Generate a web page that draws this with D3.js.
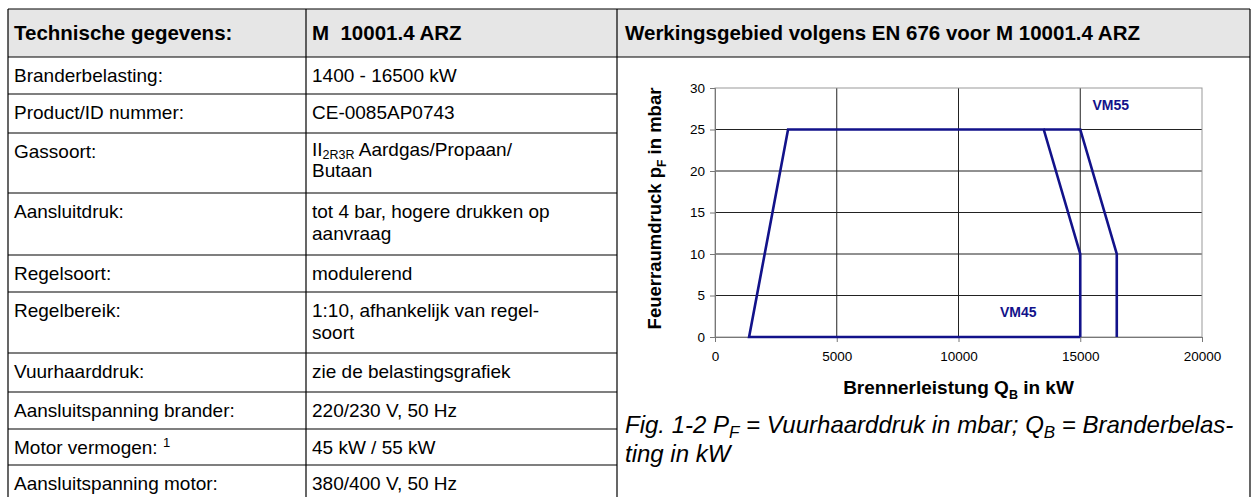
<!DOCTYPE html>
<html>
<head>
<meta charset="utf-8">
<script src="https://cdn.jsdelivr.net/npm/d3@7"></script>
<style>
  body { margin: 0; background: #fff; }
  svg { display: block; font-family: "Liberation Sans", Arial, sans-serif; }
  text { white-space: pre; }
</style>
</head>
<body>
<div id="chart"></div>
<script>
// table content (sub/superscript written as _{..} / ^{..})
var tableHeader = ["Technische gegevens:", "M  10001.4 ARZ"];
var tableLabels = ["Branderbelasting:", "Product/ID nummer:", "Gassoort:", "Aansluitdruk:",
  "Regelsoort:", "Regelbereik:", "Vuurhaarddruk:", "Aansluitspanning brander:",
  "Motor vermogen: ^{1}", "Aansluitspanning motor:"];
var tableValues = [["1400 - 16500 kW"], ["CE-0085AP0743"], ["II_{2R3R} Aardgas/Propaan/", "Butaan"],
  ["tot 4 bar, hogere drukken op", "aanvraag"], ["modulerend"], ["1:10, afhankelijk van regel-", "soort"],
  ["zie de belastingsgrafiek"], ["220/230 V, 50 Hz"], ["45 kW / 55 kW"], ["380/400 V, 50 Hz"]];

// chart content
var chartTitle = "Werkingsgebied volgens EN 676 voor M 10001.4 ARZ";
var xTicks = [0, 5000, 10000, 15000, 20000];
var yTicks = [0, 5, 10, 15, 20, 25, 30];
var vm45 = [[15000, 0], [1400, 0], [3000, 25], [13500, 25], [15000, 10], [15000, 0]];
var vm55 = [[13500, 25], [15000, 25], [16500, 10], [16500, 0]];
var seriesLabels = [{name: "VM45", x: 11700, y: 2.4}, {name: "VM55", x: 15500, y: 27.3}];
var yTitle = "Feuerraumdruck p_{F} in mbar";
var xTitle = "Brennerleistung Q_{B} in kW";
var caption = ["Fig. 1-2 P_{F} = Vuurhaarddruk in mbar; Q_{B} = Branderbelas-", "ting in kW"];

var W = 1254, H = 497;
var svg = d3.select("#chart").append("svg").attr("width", W).attr("height", H);

// write text with _{sub} and ^{sup} parts
function richText(sel, str, subSize, dn, up) {
  var parts = str.split(/(_\{[^}]*\}|\^\{[^}]*\})/);
  var shift = 0;
  parts.forEach(function(p) {
    if (!p) return;
    var t = sel.append("tspan");
    if (p[0] == "_" || p[0] == "^") {
      var d = p[0] == "_" ? (dn || 5) : -(up || 7);
      t.attr("dy", d - shift).style("font-size", subSize).text(p.slice(2, -1));
      shift = d;
    } else {
      t.attr("dy", -shift).text(p);
      shift = 0;
    }
  });
}

// ---- table ----
var xL = 8, xM = 306, xR = 617, xE = 1250;
var rowH = [37, 39, 60, 62, 37, 61, 39, 37, 36, 40];
var top0 = 9, headH = 48;

svg.append("rect").attr("x", xL).attr("y", top0).attr("width", xE - xL).attr("height", headH)
  .attr("fill", "#e6e6e6");

var rowY = [top0 + headH];
rowH.forEach(function(h, i) { rowY.push(rowY[i] + h); });

var g = svg.append("g").attr("stroke", "#000").attr("stroke-width", 1.2).attr("fill", "none");
g.append("line").attr("x1", xL).attr("x2", xE).attr("y1", top0).attr("y2", top0);
g.append("line").attr("x1", xL).attr("x2", xE).attr("y1", rowY[0]).attr("y2", rowY[0]);
rowY.slice(1).forEach(function(y) {
  g.append("line").attr("x1", xL).attr("x2", xR).attr("y1", y).attr("y2", y);
});
[xL, xM, xR].forEach(function(x) {
  g.append("line").attr("x1", x).attr("x2", x).attr("y1", top0).attr("y2", H + 10);
});
g.append("line").attr("x1", xE).attr("x2", xE).attr("y1", top0).attr("y2", H + 10);

var hdr = [[xL + 6, tableHeader[0]], [xM + 6, tableHeader[1]], [xR + 8, chartTitle]];
hdr.forEach(function(h) {
  svg.append("text").attr("x", h[0]).attr("y", top0 + 31)
    .style("font-size", "20.5px").style("font-weight", "bold").text(h[1]);
});

tableLabels.forEach(function(lab, i) {
  var y0 = rowY[i];
  var t = svg.append("text").attr("x", xL + 6).attr("y", y0 + 25).style("font-size", "19px");
  richText(t, lab, "13px");
  var vals = tableValues[i];
  var gap = i == 2 ? 21 : 22;
  vals.forEach(function(v, j) {
    var tv = svg.append("text").attr("x", xM + 6).attr("y", y0 + (i == 2 ? 23 : 25) + j * gap)
      .style("font-size", "19px");
    richText(tv, v, "12.5px", 3);
  });
});

// ---- chart ----
var x = d3.scaleLinear().domain([0, 20000]).range([715, 1202]);
var y = d3.scaleLinear().domain([0, 30]).range([337, 88]);

var grid = svg.append("g");
grid.selectAll(".hg").data(yTicks.slice(1, -1)).enter().append("line")
  .attr("x1", x(0)).attr("x2", x(20000)).attr("y1", function(d) { return y(d); })
  .attr("y2", function(d) { return y(d); }).attr("stroke", "#222").attr("stroke-width", 1);
grid.selectAll(".vg").data(xTicks.slice(1, -1)).enter().append("line")
  .attr("y1", y(0)).attr("y2", y(30)).attr("x1", function(d) { return x(d); })
  .attr("x2", function(d) { return x(d); }).attr("stroke", "#222").attr("stroke-width", 1);
svg.append("rect").attr("x", x(0)).attr("y", y(30)).attr("width", x(20000) - x(0))
  .attr("height", y(0) - y(30)).attr("fill", "none").attr("stroke", "#999");

var yAxis = svg.append("g").attr("transform", "translate(" + x(0) + ",0)")
  .call(d3.axisLeft(y).tickValues(yTicks).tickSize(5).tickPadding(5));
var xAxis = svg.append("g").attr("transform", "translate(0," + y(0) + ")")
  .call(d3.axisBottom(x).tickValues(xTicks).tickFormat(d3.format("d")).tickSize(5).tickPadding(9));
[yAxis, xAxis].forEach(function(a) {
  a.selectAll("path, line").attr("stroke", "#777");
  a.selectAll("text").style("font-size", "13.5px").style("font-family", "Liberation Sans, Arial, sans-serif")
    .attr("fill", "#000");
});

var line = d3.line().x(function(d) { return x(d[0]); }).y(function(d) { return y(d[1]); });
[vm45, vm55].forEach(function(s) {
  svg.append("path").attr("d", line(s)).attr("fill", "none")
    .attr("stroke", "#12128a").attr("stroke-width", 2.6).attr("stroke-linejoin", "miter");
});

seriesLabels.forEach(function(s) {
  svg.append("text").attr("x", x(s.x)).attr("y", y(s.y)).style("font-size", "14px")
    .style("font-weight", "bold").attr("fill", "#12128a").text(s.name);
});

var yt = svg.append("text").attr("transform", "translate(661," + ((y(0) + y(30)) / 2 - 4) + ") rotate(-90)")
  .attr("text-anchor", "middle").style("font-size", "18.5px").style("font-weight", "bold");
richText(yt, yTitle, "12px");

var xt = svg.append("text").attr("x", (x(0) + x(20000)) / 2).attr("y", 394)
  .attr("text-anchor", "middle").style("font-size", "19px").style("font-weight", "bold");
richText(xt, xTitle, "12.5px");

caption.forEach(function(c, i) {
  var ct = svg.append("text").attr("x", xR + 8).attr("y", 433 + i * 29)
    .style("font-size", "24px").style("font-style", "italic");
  richText(ct, c, "17px");
});
</script>
</body>
</html>
